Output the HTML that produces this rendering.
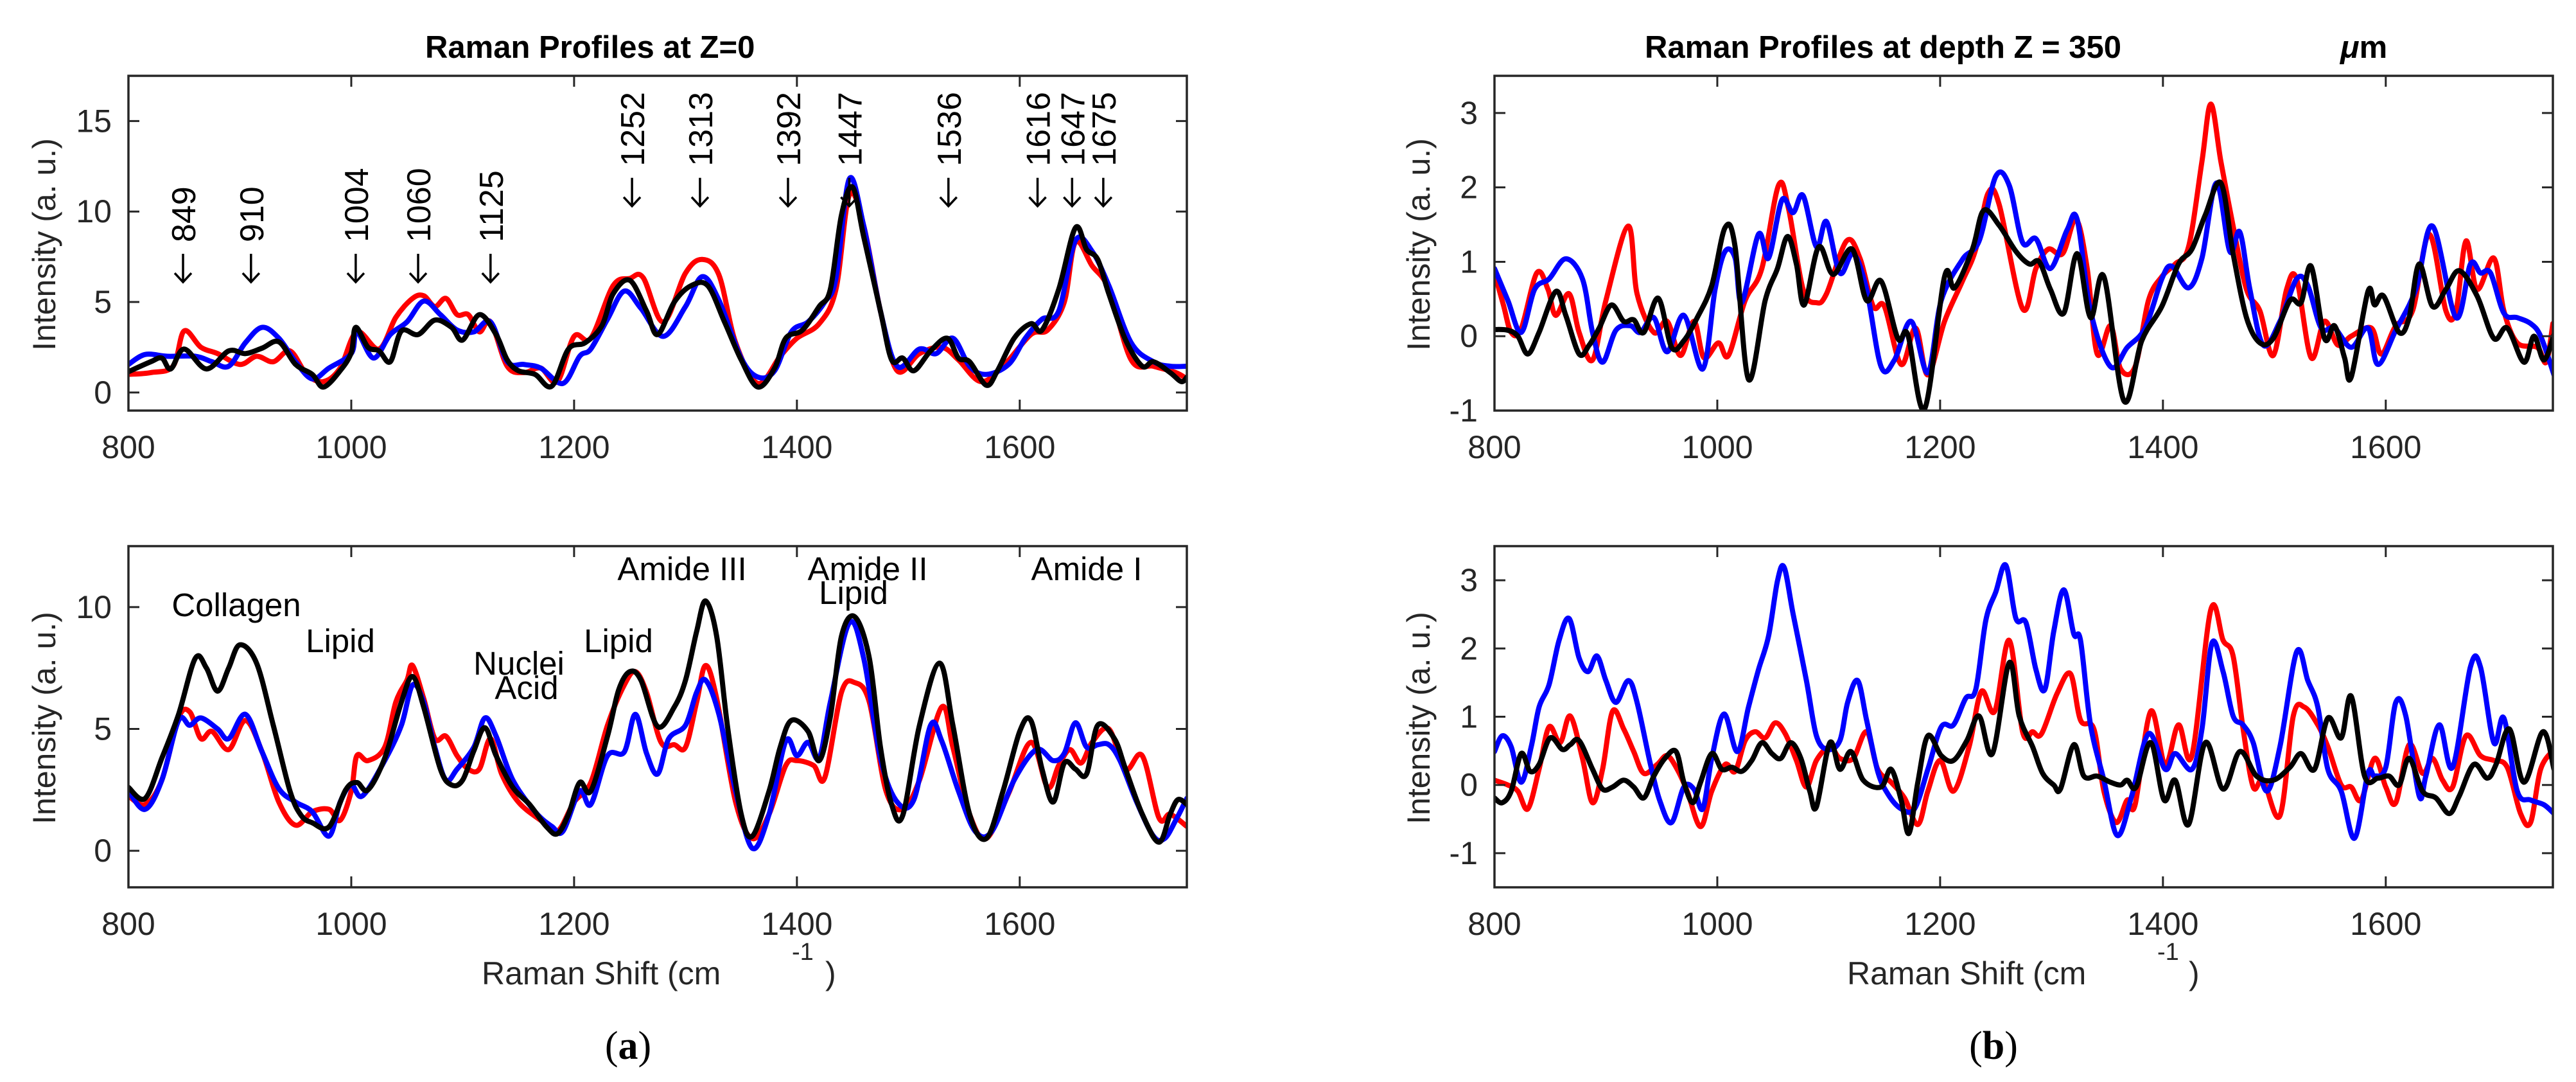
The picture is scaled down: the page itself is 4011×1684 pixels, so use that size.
<!DOCTYPE html>
<html><head><meta charset="utf-8"><style>
html,body{margin:0;padding:0;background:#fff;}
svg{display:block;font-family:"Liberation Sans",sans-serif;}
</style></head><body>
<svg id="fig" width="4011" height="1684" viewBox="0 0 4011 1684" xmlns="http://www.w3.org/2000/svg">
<rect width="4011" height="1684" fill="#fff"/>
<text x="662" y="90" font-size="49" font-weight="bold">Raman Profiles at Z=0</text>
<text x="2561" y="90" font-size="49" font-weight="bold">Raman Profiles at depth Z = 350</text>
<text x="3644" y="90" font-size="49" font-weight="bold"><tspan font-style="italic">μ</tspan>m</text>
<text x="750" y="1532" font-size="50" fill="#262626">Raman Shift (cm</text>
<text x="1233" y="1494" font-size="38" fill="#262626">-1</text>
<text x="1285" y="1532" font-size="50" fill="#262626">)</text>
<text x="2876" y="1532" font-size="50" fill="#262626">Raman Shift (cm</text>
<text x="3359" y="1494" font-size="38" fill="#262626">-1</text>
<text x="3408" y="1532" font-size="50" fill="#262626">)</text>
<text x="978" y="1648" font-size="62" text-anchor="middle" font-family="Liberation Serif, serif">(<tspan font-weight="bold">a</tspan>)</text>
<text x="3104" y="1648" font-size="62" text-anchor="middle" font-family="Liberation Serif, serif">(<tspan font-weight="bold">b</tspan>)</text>
</svg>
<script>
const xTicks=[800,1000,1200,1400,1600];
const tlTicks=[0,5,10,15];
const blTicks=[0,5,10];
const rTicks=[-1,0,1,2,3];
const peakLabelsLow=[849,910,1004,1060,1125];
const peakLabelsHigh=[1252,1313,1392,1447,1536,1616,1647,1675];
const peakLowY=6.1, peakHighY=10.3;

const tlRed=[[800,1.0],[820,1.1],[840,1.45],[850,3.4],[865,2.5],[880,2.15],[900,1.55],[915,2.0],[930,1.7],[945,2.3],[960,1.0],[975,0.6],[990,1.35],[1005,3.35],[1025,2.4],[1040,4.15],[1055,5.2],[1065,5.35],[1075,4.75],[1085,5.2],[1095,4.3],[1105,4.3],[1115,3.35],[1125,3.9],[1140,1.45],[1155,1.1],[1170,1.35],[1185,0.6],[1200,3.1],[1215,3.0],[1235,5.9],[1250,6.3],[1262,6.35],[1280,3.9],[1300,6.6],[1315,7.35],[1330,6.5],[1345,2.75],[1365,0.5],[1385,2.0],[1400,3.0],[1420,3.8],[1435,5.7],[1447,10.9],[1460,9.2],[1475,4.5],[1490,1.2],[1510,2.15],[1530,2.5],[1545,1.8],[1565,0.6],[1585,1.45],[1610,3.2],[1625,3.45],[1640,5.0],[1650,8.3],[1665,7.0],[1680,5.7],[1700,1.8],[1720,1.45],[1740,1.1],[1750,0.75]];
const tlBlue=[[800,1.55],[815,2.1],[835,2.0],[860,2.0],[875,1.7],[890,1.45],[905,2.75],[920,3.6],[935,3.0],[950,1.7],[965,0.75],[980,1.35],[1000,2.15],[1005,3.35],[1020,1.9],[1035,3.2],[1050,3.9],[1065,5.05],[1080,4.3],[1095,3.45],[1110,3.35],[1125,3.9],[1140,1.7],[1155,1.55],[1170,1.35],[1190,0.5],[1205,2.0],[1215,2.4],[1230,4.05],[1245,5.6],[1260,4.65],[1280,3.1],[1300,4.75],[1315,6.4],[1330,5.1],[1350,1.9],[1365,0.85],[1380,1.2],[1395,3.35],[1410,3.9],[1425,5.0],[1435,6.3],[1447,11.8],[1460,9.2],[1475,4.5],[1490,1.45],[1510,2.4],[1525,2.15],[1540,3.0],[1555,1.45],[1570,1.0],[1590,1.55],[1605,3.0],[1620,4.05],[1635,4.5],[1650,8.4],[1665,7.8],[1680,5.9],[1700,2.75],[1720,1.7],[1735,1.45],[1750,1.45]];
const tlBlack=[[800,1.15],[820,1.7],[830,1.9],[838,1.3],[850,2.4],[870,1.3],[890,2.3],[905,2.15],[920,2.45],[935,2.8],[950,1.55],[965,1.0],[975,0.3],[990,1.2],[1000,2.2],[1004,3.6],[1015,2.5],[1025,2.3],[1035,1.7],[1045,3.4],[1060,3.2],[1075,4.0],[1090,3.6],[1100,2.9],[1115,4.3],[1130,3.2],[1140,1.8],[1150,1.2],[1165,1.0],[1180,0.35],[1195,2.4],[1210,2.75],[1225,3.7],[1235,5.45],[1250,6.2],[1265,4.5],[1275,3.2],[1290,5.0],[1305,5.9],[1320,5.9],[1335,3.9],[1350,1.8],[1365,0.3],[1380,1.35],[1390,3.0],[1405,3.45],[1420,4.75],[1430,5.7],[1440,9.8],[1450,11.35],[1460,8.6],[1475,4.5],[1485,1.8],[1495,1.9],[1505,1.2],[1520,2.3],[1535,3.0],[1545,1.9],[1555,1.7],[1570,0.4],[1580,1.2],[1595,3.0],[1610,3.8],[1620,3.45],[1635,5.7],[1650,9.1],[1660,7.9],[1670,7.35],[1680,5.45],[1695,2.9],[1710,1.45],[1720,1.7],[1735,1.1],[1745,0.6],[1750,0.85]];

const blRed=[[800,2.25],[815,1.9],[830,2.9],[845,5.45],[855,5.7],[865,4.6],[875,4.9],[890,4.15],[905,5.35],[920,4.05],[935,2.0],[950,1.05],[965,1.6],[980,1.7],[990,1.25],[1000,2.45],[1005,3.9],[1015,3.7],[1030,4.25],[1040,6.1],[1050,7.0],[1055,7.6],[1065,6.25],[1075,4.6],[1085,4.7],[1095,3.9],[1105,3.35],[1115,3.35],[1125,4.6],[1135,3.15],[1150,2.0],[1170,1.25],[1185,0.8],[1200,2.0],[1215,2.8],[1230,5.15],[1245,6.8],[1255,7.35],[1265,6.5],[1278,4.45],[1290,4.35],[1300,4.25],[1310,6.1],[1318,7.6],[1328,6.25],[1345,2.0],[1360,0.5],[1375,1.5],[1390,3.5],[1400,3.7],[1415,3.5],[1425,3.0],[1440,6.5],[1452,6.9],[1465,6.1],[1480,2.45],[1495,1.7],[1510,2.9],[1530,5.9],[1540,4.25],[1555,1.5],[1570,0.5],[1590,2.35],[1610,4.45],[1625,2.6],[1635,3.5],[1645,4.15],[1655,3.6],[1665,4.45],[1680,5.0],[1695,3.35],[1710,3.9],[1725,1.35],[1735,1.5],[1750,1.0]];
const blBlue=[[800,2.45],[815,1.7],[830,2.9],[845,5.35],[855,5.15],[865,5.45],[880,5.0],[890,4.6],[905,5.6],[920,4.05],[935,2.55],[950,2.0],[965,1.6],[980,0.6],[990,2.0],[1000,2.7],[1010,2.25],[1030,3.7],[1045,5.15],[1055,6.8],[1065,6.1],[1075,4.25],[1085,2.9],[1095,3.35],[1110,4.25],[1120,5.45],[1130,4.7],[1145,2.9],[1165,1.6],[1180,1.0],[1190,0.8],[1205,2.45],[1215,1.9],[1230,3.9],[1245,4.05],[1255,5.6],[1265,4.0],[1275,3.15],[1285,4.6],[1300,5.15],[1310,6.5],[1318,7.0],[1330,5.6],[1345,2.45],[1360,0.1],[1375,1.5],[1390,4.5],[1400,3.9],[1410,4.45],[1420,3.8],[1430,6.1],[1447,9.35],[1460,7.9],[1475,3.8],[1490,2.0],[1505,2.1],[1520,5.15],[1530,4.5],[1545,2.45],[1560,0.8],[1575,0.8],[1595,2.9],[1615,4.15],[1630,3.7],[1640,4.0],[1650,5.25],[1660,4.25],[1670,4.35],[1680,4.35],[1690,3.7],[1705,2.0],[1720,0.6],[1730,0.5],[1740,1.25],[1750,2.15]];
const blBlack=[[800,2.6],[815,2.15],[830,3.8],[845,5.6],[860,7.9],[870,7.5],[880,6.55],[890,7.5],[900,8.45],[915,7.7],[930,5.15],[945,2.45],[955,1.45],[965,1.15],[980,0.98],[995,2.5],[1005,2.8],[1015,2.5],[1030,3.8],[1045,6.1],[1055,7.15],[1065,5.9],[1080,3.35],[1090,2.7],[1100,2.9],[1110,4.1],[1120,5.05],[1130,3.9],[1145,2.6],[1160,1.9],[1175,1.0],[1185,0.7],[1195,1.5],[1205,2.8],[1215,2.45],[1230,4.7],[1240,6.6],[1250,7.35],[1260,7.0],[1275,5.1],[1290,5.9],[1300,7.0],[1310,9.0],[1318,10.25],[1328,8.8],[1338,5.0],[1350,1.5],[1360,0.6],[1375,2.45],[1385,4.25],[1395,5.35],[1410,4.9],[1420,3.7],[1430,5.5],[1440,8.8],[1452,9.6],[1465,7.9],[1475,4.25],[1485,1.9],[1495,1.45],[1510,5.15],[1528,7.7],[1540,5.15],[1555,1.5],[1570,0.5],[1585,2.45],[1600,4.9],[1610,5.35],[1620,3.35],[1630,2.0],[1640,3.6],[1650,3.35],[1660,3.15],[1670,5.15],[1685,4.6],[1695,3.35],[1710,1.5],[1725,0.35],[1735,1.5],[1742,2.1],[1750,1.9]];

const trRed=[[800,0.85],[808,0.42],[815,0.05],[824,0.1],[838,0.85],[848,0.63],[855,0.28],[867,0.57],[876,0.05],[888,-0.32],[900,0.48],[920,1.48],[928,0.57],[943,0.05],[955,0.2],[967,-0.26],[979,0.2],[988,-0.29],[1001,-0.09],[1010,-0.26],[1025,0.48],[1040,0.91],[1055,2.03],[1064,1.71],[1077,0.63],[1089,0.45],[1098,0.57],[1116,1.28],[1128,1.05],[1140,0.4],[1150,0.4],[1165,-0.38],[1178,0.11],[1189,-0.52],[1204,0.2],[1220,0.74],[1232,1.17],[1243,1.92],[1253,1.77],[1274,0.37],[1286,0.91],[1297,1.17],[1310,1.11],[1322,1.57],[1332,0.91],[1341,-0.24],[1353,0.14],[1362,-0.44],[1375,-0.41],[1387,0.48],[1399,0.8],[1411,0.97],[1423,1.2],[1435,2.35],[1443,3.12],[1452,2.35],[1463,1.48],[1475,0.63],[1487,0.34],[1499,-0.26],[1511,0.63],[1520,0.77],[1533,-0.29],[1545,0.2],[1557,-0.12],[1569,0],[1587,0.11],[1596,-0.24],[1609,0.14],[1624,0.34],[1639,1.37],[1654,0.34],[1663,0.34],[1672,1.28],[1682,0.63],[1697,1.05],[1706,0.34],[1718,-0.09],[1736,-0.15],[1744,-0.35],[1750,0.17]];
const trBlue=[[800,0.91],[812,0.48],[824,0.05],[836,0.63],[849,0.77],[864,1.04],[879,0.77],[888,0.05],[897,-0.35],[909,0.08],[922,0.14],[931,0.05],[943,0.25],[955,-0.21],[970,0.28],[987,-0.44],[998,0.63],[1007,1.14],[1016,1.05],[1022,0.45],[1037,1.37],[1046,1.05],[1058,1.83],[1068,1.66],[1077,1.89],[1089,1.2],[1098,1.54],[1110,0.85],[1122,1.11],[1134,0.63],[1147,-0.41],[1159,-0.32],[1174,0.2],[1189,-0.49],[1201,0.48],[1220,1.03],[1235,1.28],[1250,2.15],[1262,2.03],[1274,1.26],[1286,1.31],[1299,0.91],[1314,1.43],[1323,1.57],[1335,0.34],[1353,-0.41],[1368,-0.15],[1384,0.11],[1399,0.77],[1408,0.94],[1423,0.65],[1435,1.05],[1448,2.06],[1460,1.14],[1469,1.4],[1478,0.63],[1490,-0.12],[1505,0.2],[1520,0.77],[1530,0.68],[1542,0.11],[1554,0.11],[1569,-0.15],[1584,0.11],[1593,-0.38],[1609,0.08],[1627,0.63],[1642,1.48],[1663,0.25],[1676,0.97],[1685,0.85],[1694,0.85],[1706,0.31],[1718,0.25],[1730,0.17],[1739,0],[1751,-0.52]];
const trBlack=[[800,0.09],[812,0.08],[821,0],[830,-0.24],[840,0.05],[855,0.6],[864,0.28],[876,-0.24],[885,-0.12],[894,0.11],[905,0.42],[916,0.2],[925,0.22],[934,0.05],[947,0.51],[959,-0.15],[970,-0.06],[982,0.25],[995,0.68],[1007,1.46],[1016,1.2],[1028,-0.58],[1043,0.48],[1054,0.91],[1063,1.34],[1071,0.97],[1078,0.42],[1091,1.2],[1104,0.83],[1121,1.17],[1134,0.48],[1147,0.74],[1162,-0.03],[1171,0.02],[1186,-0.98],[1204,0.8],[1213,0.65],[1229,1.17],[1239,1.69],[1253,1.49],[1268,1.14],[1280,0.97],[1289,1.0],[1299,0.63],[1311,0.31],[1323,1.11],[1335,0.25],[1347,0.8],[1365,-0.87],[1381,-0.06],[1399,0.4],[1414,0.97],[1426,1.17],[1438,1.63],[1452,2.06],[1463,1.11],[1475,0.25],[1487,-0.09],[1499,-0.03],[1514,0.48],[1524,0.45],[1533,0.94],[1545,-0.03],[1554,0.14],[1563,-0.29],[1569,-0.55],[1584,0.6],[1590,0.42],[1598,0.54],[1612,0.05],[1621,0.25],[1630,0.97],[1642,0.4],[1654,0.63],[1666,0.88],[1682,0.54],[1697,-0.03],[1709,0.11],[1724,-0.35],[1733,0],[1742,-0.32],[1751,0.02]];

const brRed=[[800,0.07],[812,0],[821,-0.09],[830,-0.35],[840,0.23],[849,0.85],[859,0.62],[868,1.01],[879,0.39],[888,-0.26],[897,0.23],[906,1.08],[916,0.82],[925,0.49],[934,0.17],[946,0.3],[955,0.43],[964,0.23],[973,-0.09],[985,-0.61],[995,-0.09],[1007,0.3],[1016,0.2],[1025,0.65],[1034,0.78],[1043,0.69],[1052,0.91],[1061,0.75],[1071,0.36],[1080,-0.03],[1089,0.36],[1101,0.56],[1110,0.39],[1122,0.39],[1134,0.78],[1144,0.23],[1156,0.04],[1168,-0.19],[1180,-0.58],[1189,-0.09],[1200,0.36],[1212,-0.09],[1226,0.56],[1237,1.37],[1249,1.08],[1262,2.12],[1274,0.78],[1283,0.78],[1291,0.75],[1305,1.34],[1317,1.63],[1326,0.95],[1338,0.82],[1347,-0.09],[1358,-0.55],[1368,-0.22],[1375,-0.29],[1389,1.08],[1402,0.3],[1414,0.88],[1426,0.43],[1443,2.57],[1454,2.12],[1463,1.89],[1472,0.82],[1481,-0.03],[1490,0.07],[1505,-0.45],[1517,1.01],[1527,1.14],[1539,0.88],[1548,0.56],[1560,0],[1569,-0.03],[1578,-0.22],[1590,0.39],[1600,-0.03],[1609,-0.26],[1621,0.59],[1633,0.17],[1642,0.39],[1651,0.07],[1660,-0.03],[1672,0.72],[1685,0.43],[1697,0.36],[1709,0.26],[1721,-0.42],[1730,-0.55],[1739,0.23],[1751,0.52]];
const brBlue=[[800,0.49],[807,0.72],[815,0.56],[824,0.04],[833,0.56],[840,1.14],[849,1.47],[858,2.12],[867,2.44],[876,1.86],[884,1.66],[892,1.89],[900,1.53],[909,1.21],[920,1.53],[928,1.21],[940,0.3],[949,-0.26],[959,-0.55],[970,-0.03],[979,-0.06],[987,-0.35],[995,0.39],[1006,1.04],[1018,0.49],[1028,1.14],[1037,1.69],[1046,2.18],[1054,2.99],[1060,3.19],[1068,2.51],[1080,1.53],[1089,0.72],[1099,0.52],[1110,0.65],[1117,1.21],[1126,1.53],[1134,0.95],[1144,0.2],[1153,-0.13],[1165,-0.35],[1177,-0.35],[1189,0.23],[1201,0.85],[1212,0.88],[1223,1.27],[1232,1.4],[1241,2.41],[1250,2.83],[1259,3.22],[1268,2.44],[1277,2.38],[1286,1.69],[1294,1.4],[1302,2.25],[1311,2.86],[1320,2.21],[1326,2.12],[1335,0.88],[1347,0.07],[1359,-0.74],[1372,-0.16],[1387,0.75],[1402,0.23],[1411,0.46],[1426,0.23],[1435,0.82],[1444,2.08],[1454,1.66],[1463,1.01],[1472,0.88],[1481,0.62],[1493,-0.09],[1505,0.56],[1520,1.95],[1530,1.53],[1539,1.14],[1548,0.23],[1560,-0.09],[1572,-0.78],[1584,0.17],[1590,0.13],[1600,0.26],[1609,1.21],[1618,1.01],[1630,-0.16],[1636,0.13],[1648,0.88],[1660,0.26],[1676,1.73],[1685,1.73],[1697,0.62],[1706,0.98],[1718,-0.09],[1730,-0.22],[1742,-0.29],[1751,-0.42]];
const brBlack=[[800,-0.19],[807,-0.26],[815,-0.09],[824,0.46],[832,0.2],[840,0.3],[850,0.69],[861,0.52],[868,0.59],[876,0.65],[888,0.23],[897,-0.06],[906,-0.03],[916,0.07],[925,-0.03],[934,-0.19],[943,0.13],[953,0.39],[963,0.49],[970,0.04],[978,-0.26],[985,0.04],[995,0.46],[1004,0.23],[1013,0.26],[1022,0.2],[1031,0.36],[1040,0.62],[1049,0.46],[1057,0.39],[1066,0.62],[1075,0.39],[1083,-0.09],[1089,-0.32],[1101,0.62],[1110,0.23],[1120,0.49],[1131,0.07],[1147,-0.03],[1156,0.23],[1165,-0.22],[1172,-0.71],[1180,0.04],[1189,0.72],[1201,0.43],[1212,0.36],[1224,0.65],[1235,1.01],[1247,0.46],[1262,1.79],[1271,1.01],[1283,0.56],[1292,0.17],[1302,0],[1308,-0.06],[1320,0.59],[1329,0.13],[1341,0.13],[1353,0.04],[1362,0],[1368,0.07],[1376,-0.03],[1389,0.62],[1401,-0.22],[1411,0.07],[1423,-0.58],[1438,0.62],[1454,-0.06],[1469,0.49],[1484,0.13],[1499,0.07],[1514,0.26],[1524,0.46],[1536,0.23],[1548,0.98],[1560,0.69],[1569,1.3],[1581,0.13],[1593,0.1],[1603,0.13],[1612,0],[1621,0.39],[1633,-0.09],[1645,-0.19],[1657,-0.42],[1666,-0.16],[1679,0.3],[1691,0.1],[1699,0.3],[1711,0.82],[1724,0.04],[1741,0.78],[1751,0.23]];

const NS='http://www.w3.org/2000/svg';
const svg=document.getElementById('fig');
function mk(tag,attrs,parent){const e=document.createElementNS(NS,tag);for(const k in attrs)e.setAttribute(k,attrs[k]);(parent||svg).appendChild(e);return e;}

function panel(id,box,ylim){
  const xs=v=>box.x0+(v-800)/(1750-800)*(box.x1-box.x0);
  const ys=v=>box.y1-(v-ylim[0])/(ylim[1]-ylim[0])*(box.y1-box.y0);
  const g=mk('g',{});
  
  
  const cp=mk('clipPath',{id:id+'-clip'},g);
  mk('rect',{x:box.x0,y:box.y0,width:box.x1-box.x0,height:box.y1-box.y0},cp);
  return {g,xs,ys,box};
}
function axesFrame(p,yticks,label,labelX){
  const {g,xs,ys,box}=p;
  for(const t of xTicks){
    const X=xs(t);
    const a=mk('line',{x1:X,x2:X,y1:box.y1,y2:box.y1-17,stroke:'#262626','stroke-width':3},g);
    
    
    mk('line',{x1:X,x2:X,y1:box.y0,y2:box.y0+17,stroke:'#262626','stroke-width':3},g);
    const tx=mk('text',{x:X,y:box.y1+74,'font-size':50,'text-anchor':'middle',fill:'#262626'},g);
    tx.textContent=t;
    
    
  }
  for(const t of yticks){
    const Y=ys(t);
    const a=mk('line',{x1:box.x0,x2:box.x0+17,y1:Y,y2:Y,stroke:'#262626','stroke-width':3},g);
    
    
    mk('line',{x1:box.x1,x2:box.x1-17,y1:Y,y2:Y,stroke:'#262626','stroke-width':3},g);
    const tx=mk('text',{x:box.x0-26,y:Y+17,'font-size':50,'text-anchor':'end',fill:'#262626'},g);
    tx.textContent=t;
    
    
  }
  const yl=mk('text',{x:0,y:0,'font-size':50,'text-anchor':'middle',fill:'#262626',transform:`translate(${labelX},${(box.y0+box.y1)/2+2}) rotate(-90)`,'dominant-baseline':'central'},g);
  yl.textContent=label;
  
  
  const fr=mk('rect',{x:box.x0,y:box.y0,width:box.x1-box.x0,height:box.y1-box.y0,fill:'none',stroke:'#262626','stroke-width':3.5},g);
  
  
}
function pathD(pts,xs,ys){
  const P=pts.map(p=>[xs(p[0]),ys(p[1])]);
  let d='M'+P[0][0].toFixed(1)+','+P[0][1].toFixed(1);
  for(let i=0;i<P.length-1;i++){
    const p0=P[Math.max(0,i-1)],p1=P[i],p2=P[i+1],p3=P[Math.min(P.length-1,i+2)];
    const c1=[p1[0]+(p2[0]-p0[0])/6,p1[1]+(p2[1]-p0[1])/6];
    const c2=[p2[0]-(p3[0]-p1[0])/6,p2[1]-(p3[1]-p1[1])/6];
    d+=`C${c1[0].toFixed(1)},${c1[1].toFixed(1)} ${c2[0].toFixed(1)},${c2[1].toFixed(1)} ${p2[0].toFixed(1)},${p2[1].toFixed(1)}`;
  }
  return d;
}
function series(p,id,pts,color,name){
  const e=mk('path',{d:pathD(pts,p.xs,p.ys),fill:'none',stroke:color,'stroke-width':8,'stroke-linejoin':'round','stroke-linecap':'round','clip-path':`url(#${id}-clip)`},p.g);
  
  
}
function peakLabel(p,v,yv){
  const X=p.xs(v), Y=p.ys(yv);
  const ar=mk('path',{d:`M${X},${Y} L${X},${Y-44} M${X-13},${Y-14} L${X},${Y} L${X+13},${Y-14}`,fill:'none',stroke:'#000','stroke-width':3.5},p.g);
  
  
  const t=mk('text',{x:0,y:0,'font-size':52,'dominant-baseline':'central',transform:`translate(${X+2},${Y-62}) rotate(-90)`},p.g);
  t.textContent=String(v);
  
  
}

const TL=panel('tl',{x0:200,x1:1848,y0:118,y1:639},[-1,17.5]);
series(TL,'tl',tlRed,'#ff0000','series-red-z0-top');
series(TL,'tl',tlBlue,'#0000ff','series-blue-z0-top');
series(TL,'tl',tlBlack,'#000000','series-black-z0-top');
axesFrame(TL,tlTicks,'Intensity (a. u.)',69);
for(const v of peakLabelsLow) peakLabel(TL,v,peakLowY);
for(const v of peakLabelsHigh) peakLabel(TL,v,peakHighY);

const BL=panel('bl',{x0:200,x1:1848,y0:850,y1:1381},[-1.5,12.5]);
series(BL,'bl',blRed,'#ff0000','series-red-z0-bottom');
series(BL,'bl',blBlue,'#0000ff','series-blue-z0-bottom');
series(BL,'bl',blBlack,'#000000','series-black-z0-bottom');
axesFrame(BL,blTicks,'Intensity (a. u.)',69);
const notes=[['Collagen',368,941],['Lipid',530,997],['Nuclei',808,1032],['Acid',820,1070],['Lipid',963,997],['Amide III',1062,885],['Amide II',1351,885],['Lipid',1329,922],['Amide I',1692,885]];
for(const n of notes){
  const t=mk('text',{x:n[1],y:n[2]+18,'font-size':51,'text-anchor':'middle'},BL.g);
  t.textContent=n[0];
  
  
}

const TR=panel('tr',{x0:2327,x1:3975,y0:118,y1:639},[-1,3.5]);
series(TR,'tr',trRed,'#ff0000','series-red-z350-top');
series(TR,'tr',trBlue,'#0000ff','series-blue-z350-top');
series(TR,'tr',trBlack,'#000000','series-black-z350-top');
axesFrame(TR,rTicks,'Intensity (a. u.)',2209);

const BR=panel('br',{x0:2327,x1:3975,y0:850,y1:1381},[-1.5,3.5]);
series(BR,'br',brRed,'#ff0000','series-red-z350-bottom');
series(BR,'br',brBlue,'#0000ff','series-blue-z350-bottom');
series(BR,'br',brBlack,'#000000','series-black-z350-bottom');
axesFrame(BR,rTicks,'Intensity (a. u.)',2209);
</script>
</body></html>
